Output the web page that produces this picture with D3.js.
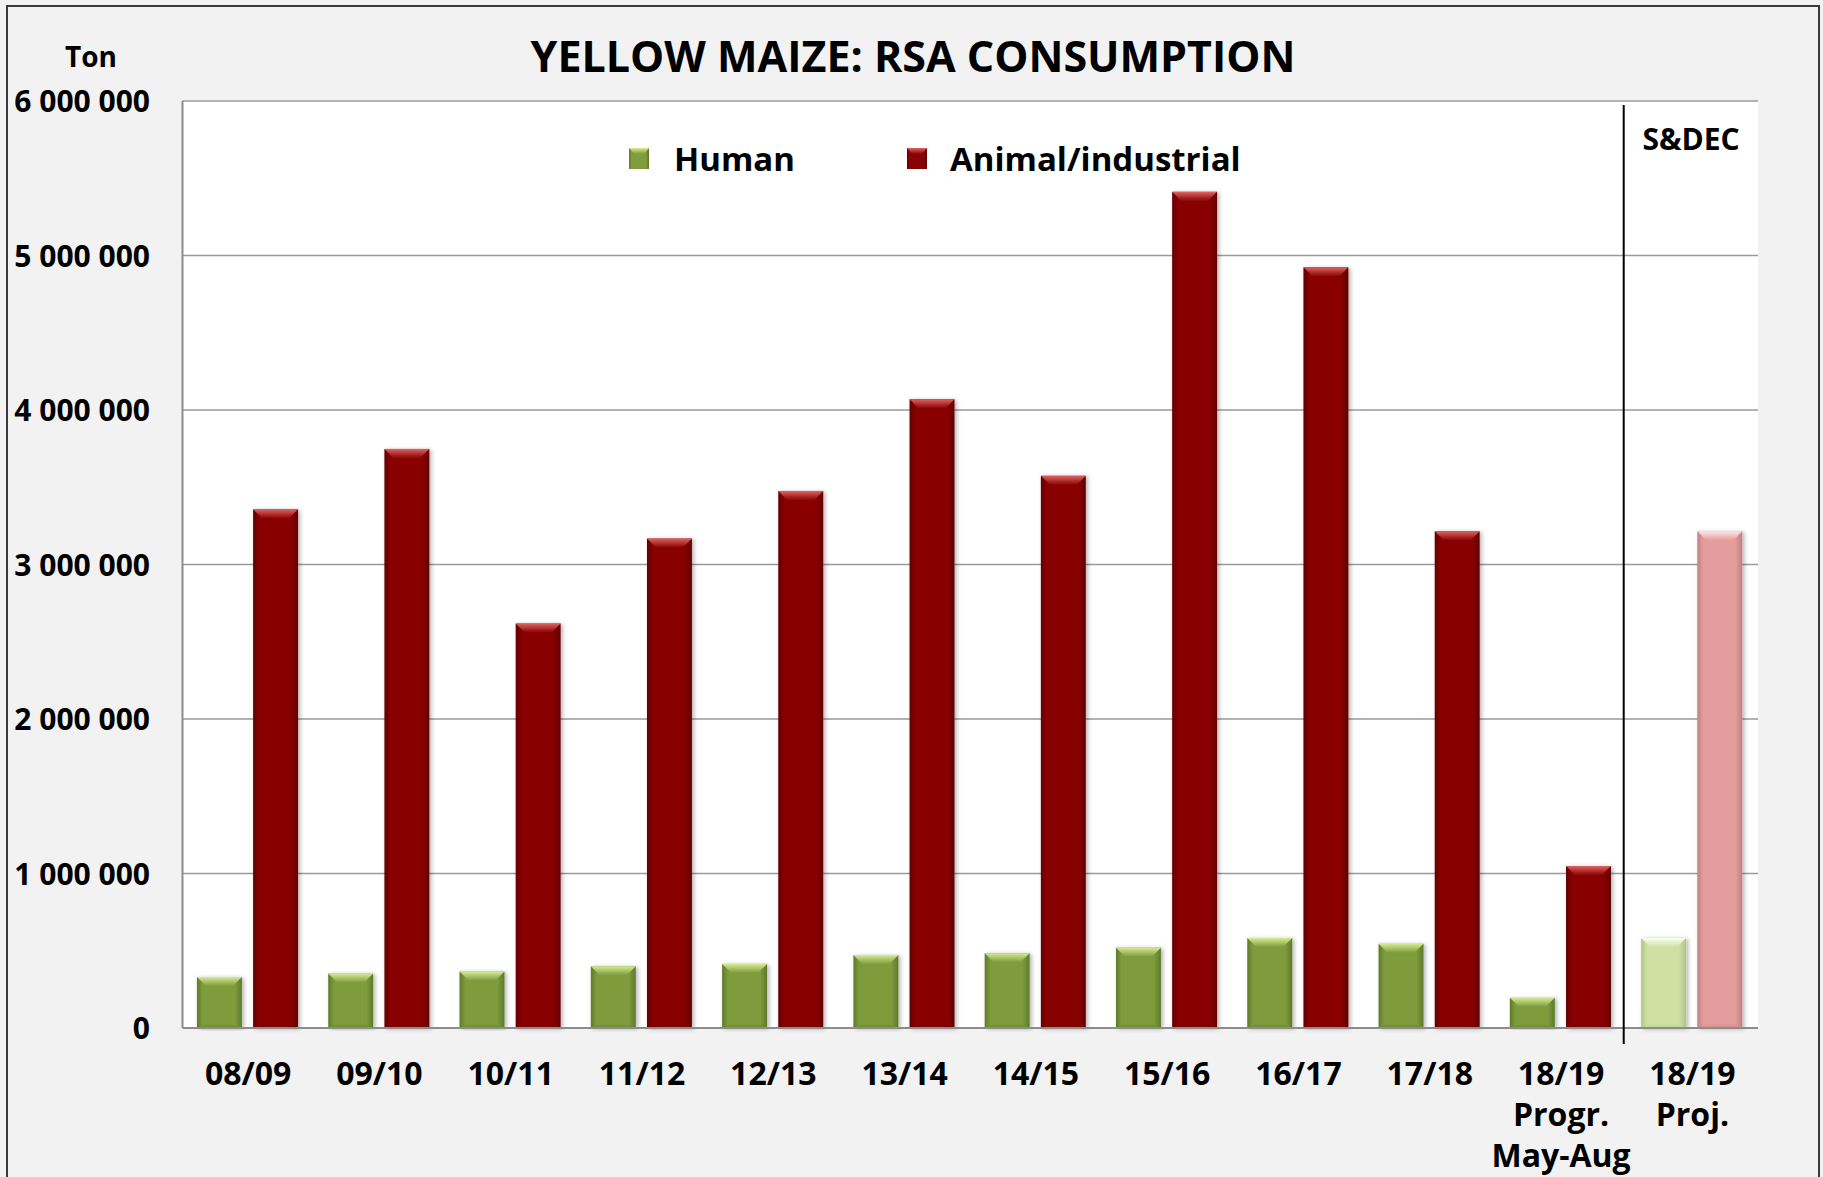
<!DOCTYPE html>
<html>
<head>
<meta charset="utf-8">
<script src="https://cdn.jsdelivr.net/npm/d3@7"></script>
<style>
  html, body { margin: 0; padding: 0; background: #f2f2f2; }
  svg { display: block; }
  text { font-family: "Open Sans", "Noto Sans", sans-serif; font-weight: 700; fill: #000; }
</style>
</head>
<body>
<svg id="chart" width="1823" height="1177"></svg>
<script>
// ---- data ----
const categories = ["08/09", "09/10", "10/11", "11/12", "12/13", "13/14", "14/15", "15/16", "16/17", "17/18", "18/19|Progr.|May-Aug", "18/19|Proj."];
const human  = [330000, 352000, 365000, 400000, 415000, 472000, 484000, 520000, 582000, 545000, 195000, 582000];
const animal = [3357000, 3748000, 2618000, 3168000, 3476000, 4070000, 3574000, 5412000, 4924000, 3215000, 1048000, 3215000];
const projected = [false, false, false, false, false, false, false, false, false, false, false, true];
const yTicks = [0, 1000000, 2000000, 3000000, 4000000, 5000000, 6000000];
const seriesNames = ["Human", "Animal/industrial"];
const titleText = "YELLOW MAIZE: RSA CONSUMPTION";
const unitText = "Ton";
const sectionText = "S&DEC";

// ---- layout ----
const W = 1823, H = 1177;
const plot = { left: 182.5, right: 1758, top: 101, bottom: 1028 };

const svg = d3.select("#chart");
const defs = svg.append("defs");

// background + outer frame
svg.append("rect").attr("x", 0).attr("y", 0).attr("width", W).attr("height", H).attr("fill", "#f2f2f2");
svg.append("rect").attr("x", 7).attr("y", 6).attr("width", 1812).attr("height", 1190)
  .attr("fill", "none").attr("stroke", "#3a3a3a").attr("stroke-width", 2);

// plot area
svg.append("rect").attr("x", plot.left).attr("y", plot.top)
  .attr("width", plot.right - plot.left).attr("height", plot.bottom - plot.top).attr("fill", "#ffffff");

const x = d3.scaleBand().domain(d3.range(categories.length)).range([plot.left, plot.right]).paddingInner(0).paddingOuter(0);
const bw = x.bandwidth();
const xs = d3.scaleBand().domain(["human", "animal"]).range([0.11 * bw, 0.88 * bw]).paddingInner(0.2).paddingOuter(0);
const y = d3.scaleLinear().domain([0, 6000000]).range([plot.bottom, plot.top]);

const loc = d3.formatLocale({ decimal: ".", thousands: " ", grouping: [3], currency: ["", ""] });
const fmt = loc.format(",");

// gridlines
svg.append("g").selectAll("line").data(yTicks.filter(d => d > 0)).join("line")
  .attr("x1", plot.left).attr("x2", plot.right)
  .attr("y1", d => y(d)).attr("y2", d => y(d))
  .attr("stroke", "#9a9a9a").attr("stroke-width", 1.6);

// y axis (labels)
const yAxis = d3.axisLeft(y).tickValues(yTicks).tickFormat(fmt).tickSize(0).tickPadding(0);
const gy = svg.append("g").attr("transform", `translate(150,0)`).call(yAxis);
gy.select(".domain").remove();
gy.selectAll("text").style("font-size", "30px").style("font-family", '"Open Sans", sans-serif')
  .style("font-weight", 700).attr("fill", "#000").attr("dy", "0.36em");

// axis lines
svg.append("line").attr("x1", plot.left).attr("x2", plot.left).attr("y1", plot.top).attr("y2", plot.bottom)
  .attr("stroke", "#8c8c8c").attr("stroke-width", 2);

// gradients
const palettes = {
  human:   { edge: "#5e7a2a", main: "#7f9c3e", light: "#d4eb92", bottom: "#6c8733" },
  animal:  { edge: "#620000", main: "#880404", light: "#e06262", bottom: "#740202" },
  humanP:  { edge: "#b0c488", main: "#cfe1a2", light: "#fbfff0", bottom: "#bfd294" },
  animalP: { edge: "#c28080", main: "#e39d9d", light: "#fde6e6", bottom: "#d08e8e" }
};
Object.entries(palettes).forEach(([k, p]) => {
  const g = defs.append("linearGradient").attr("id", "side-" + k).attr("x1", 0).attr("x2", 1).attr("y1", 0).attr("y2", 0);
  g.append("stop").attr("offset", "0%").attr("stop-color", p.edge);
  g.append("stop").attr("offset", "13%").attr("stop-color", p.main);
  g.append("stop").attr("offset", "84%").attr("stop-color", p.main);
  g.append("stop").attr("offset", "100%").attr("stop-color", p.edge);
  const t = defs.append("linearGradient").attr("id", "top-" + k).attr("x1", 0).attr("x2", 0).attr("y1", 0).attr("y2", 1);
  t.append("stop").attr("offset", "0%").attr("stop-color", p.light);
  t.append("stop").attr("offset", "100%").attr("stop-color", p.main);
  const b = defs.append("linearGradient").attr("id", "bot-" + k).attr("x1", 0).attr("x2", 0).attr("y1", 0).attr("y2", 1);
  b.append("stop").attr("offset", "0%").attr("stop-color", p.main);
  b.append("stop").attr("offset", "100%").attr("stop-color", p.bottom);
});
const sh = defs.append("filter").attr("id", "shadow").attr("x", "-20%").attr("y", "-5%").attr("width", "150%").attr("height", "110%");
sh.append("feDropShadow").attr("dx", 2).attr("dy", 1).attr("stdDeviation", 2).attr("flood-color", "#000").attr("flood-opacity", 0.3);

function drawBars(values, key) {
  const g = svg.append("g");
  values.forEach((v, i) => {
    const k = key + (projected[i] ? "P" : "");
    const x0 = x(i) + xs(key), w = xs.bandwidth();
    const y0 = y(v), h = y(0) - y(v);
    const bev = Math.min(9, h / 3);
    const b = g.append("g").attr("filter", "url(#shadow)");
    b.append("rect").attr("x", x0).attr("y", y0).attr("width", w).attr("height", h).attr("fill", `url(#side-${k})`);
    b.append("path")
      .attr("d", `M${x0},${y0}L${x0 + w},${y0}L${x0 + w - bev},${y0 + bev}L${x0 + bev},${y0 + bev}Z`)
      .attr("fill", `url(#top-${k})`);
    const yb = y0 + h;
    b.append("path")
      .attr("d", `M${x0 + bev},${yb - bev / 2}L${x0 + w - bev},${yb - bev / 2}L${x0 + w},${yb}L${x0},${yb}Z`)
      .attr("fill", `url(#bot-${k})`);
  });
}
drawBars(human, "human");
drawBars(animal, "animal");

// baseline over shadows
svg.append("line").attr("x1", plot.left).attr("x2", plot.right).attr("y1", plot.bottom).attr("y2", plot.bottom)
  .attr("stroke", "#8c8c8c").attr("stroke-width", 2);

// divider line
const divX = x(categories.length - 1) - 3;
svg.append("line").attr("x1", divX).attr("x2", divX).attr("y1", 105).attr("y2", 1044)
  .attr("stroke", "#000").attr("stroke-width", 2);

// x labels
const xl = svg.append("g");
categories.forEach((c, i) => {
  const lines = c.split("|");
  const t = xl.append("text").attr("text-anchor", "middle").style("font-size", "32px");
  lines.forEach((ln, j) => {
    t.append("tspan").attr("x", x(i) + bw / 2).attr("y", 1085 + j * 41).text(ln);
  });
});

// title, unit, section label
svg.append("text").attr("x", 913).attr("y", 72).attr("text-anchor", "middle").style("font-size", "43px").text(titleText);
svg.append("text").attr("x", 91).attr("y", 67).attr("text-anchor", "middle").style("font-size", "28px").text(unitText);
svg.append("text").attr("x", 1691).attr("y", 150).attr("text-anchor", "middle").style("font-size", "30px").text(sectionText);

// legend
const legend = [
  { name: seriesNames[0], key: "human", sx: 629, tx: 674 },
  { name: seriesNames[1], key: "animal", sx: 907, tx: 950 }
];
legend.forEach(l => {
  const g = svg.append("g");
  g.append("rect").attr("x", l.sx).attr("y", 148).attr("width", 20).attr("height", 21).attr("fill", `url(#side-${l.key})`);
  g.append("path").attr("d", `M${l.sx},148L${l.sx + 20},148L${l.sx + 15},154L${l.sx + 5},154Z`).attr("fill", `url(#top-${l.key})`);
  g.append("text").attr("x", l.tx).attr("y", 171).style("font-size", "33px").text(l.name);
});
</script>
</body>
</html>
